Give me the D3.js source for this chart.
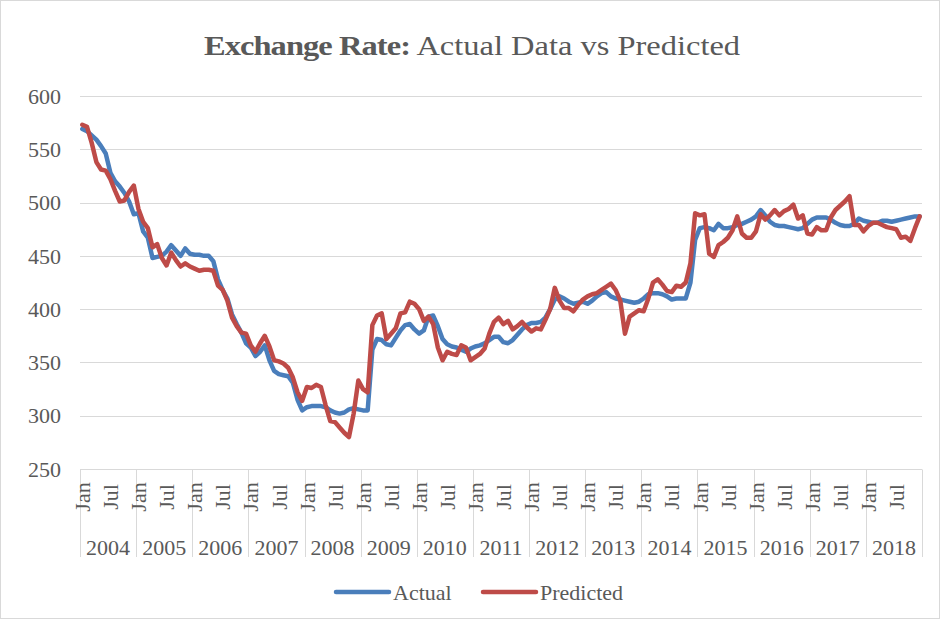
<!DOCTYPE html>
<html>
<head>
<meta charset="utf-8">
<script src="https://cdn.jsdelivr.net/npm/d3@7"></script>
<style>
  body { margin: 0; background: #fff; }
  text { font-family: "Liberation Serif", "Times New Roman", serif; fill: #595959; }
</style>
</head>
<body>
<div id="chart"></div>
<script>
// data, monthly Jan 2004 .. Dec 2018
var years = [2004, 2005, 2006, 2007, 2008, 2009, 2010, 2011, 2012, 2013, 2014, 2015, 2016, 2017, 2018];
var monthTicks = ["Jan", "Jul"];
var yTicks = [250, 300, 350, 400, 450, 500, 550, 600];

var actual = [
  569,567,563,559,553,546,528,520,515,509,501,489,
  490,473,467,448,449,450,454,460,455,450,457,452,
  451,451,450,450,445,428,418,410,395,386,378,368,
  364,356,360,366,352,342,339,338,337,331,315,305,
  308,309,309,309,308,305,303,302,303,306,307,306,
  305,305,362,372,371,367,366,373,380,385,386,381,
  377,380,393,394,384,372,367,365,364,362,360,363,
  365,366,368,371,374,374,369,368,371,376,381,385,
  387,387,388,392,400,409,412,410,407,405,406,407,
  405,408,412,415,416,412,410,409,408,407,406,407,
  410,414,415,415,414,412,409,410,410,410,425,465,
  476,477,476,474,480,476,476,477,479,480,482,484,
  487,493,488,482,479,478,478,477,476,475,476,480,
  484,486,486,486,484,481,479,478,478,480,485,483,
  482,481,481,483,483,482,483,484,485,486,487,487
];

var predicted = [
  573,571,556,538,531,530,522,511,501,502,510,516,
  494,482,476,458,461,448,441,453,446,440,443,440,
  438,436,437,437,436,422,418,408,392,384,378,377,
  366,360,368,375,365,352,351,349,345,336,322,314,
  327,326,329,327,310,295,294,289,284,280,302,333,
  325,322,385,394,396,372,377,382,396,397,407,405,
  400,389,393,386,364,352,360,358,357,366,364,352,
  355,358,363,377,388,392,386,389,381,384,388,383,
  379,382,381,390,400,420,408,401,401,398,404,409,
  412,414,415,418,421,424,418,408,377,393,396,399,
  398,410,425,428,423,417,416,422,421,425,443,490,
  488,489,452,449,460,463,467,474,487,471,467,467,
  473,489,484,488,493,488,492,494,498,485,488,471,
  470,477,474,474,486,493,497,501,506,479,479,473,
  478,481,481,479,477,476,475,467,468,464,476,487
];

var monthNames = ["Jan","Feb","Mar","Apr","May","Jun","Jul","Aug","Sep","Oct","Nov","Dec"];

var width = 947, height = 623;
var margin = { left: 80, right: 25, top: 96, bottom: 154 };

var keys = [];
years.forEach(function(y) {
  monthNames.forEach(function(m) { keys.push(y + "-" + m); });
});

var svg = d3.select("#chart").append("svg")
  .attr("width", width)
  .attr("height", height);

svg.append("rect")
  .attr("x", 0.5).attr("y", 0.5)
  .attr("width", width - 8).attr("height", height - 5)
  .attr("fill", "#fff")
  .attr("stroke", "#d9d9d9");

var x = d3.scaleBand()
  .domain(keys)
  .range([margin.left, width - margin.right]);

var y = d3.scaleLinear()
  .domain([250, 600])
  .range([height - margin.bottom, margin.top]);

function cx(i) { return x(keys[i]) + x.bandwidth() / 2; }

// gridlines
svg.append("g")
  .selectAll("line")
  .data(yTicks)
  .enter().append("line")
  .attr("x1", margin.left)
  .attr("x2", width - margin.right)
  .attr("y1", function(d) { return Math.round(y(d)) + 0.5; })
  .attr("y2", function(d) { return Math.round(y(d)) + 0.5; })
  .attr("stroke", "#d9d9d9")
  .attr("stroke-width", 1);

// y labels
svg.append("g")
  .selectAll("text")
  .data(yTicks)
  .enter().append("text")
  .attr("x", 61)
  .attr("y", function(d) { return y(d); })
  .attr("dy", "0.35em")
  .attr("text-anchor", "end")
  .style("font-size", "22px")
  .text(function(d) { return d; });

// year separators
var axisY = Math.round(y(250)) + 0.5;
var seps = years.map(function(yr) { return x(yr + "-Jan"); });
seps.push(width - margin.right);
svg.append("g")
  .selectAll("line")
  .data(seps)
  .enter().append("line")
  .attr("x1", function(d) { return Math.round(d) + 0.5; })
  .attr("x2", function(d) { return Math.round(d) + 0.5; })
  .attr("y1", axisY)
  .attr("y2", 557)
  .attr("stroke", "#d9d9d9");

// month labels
var monthLabels = [];
years.forEach(function(yr) {
  monthTicks.forEach(function(m) { monthLabels.push({ key: yr + "-" + m, label: m }); });
});
svg.append("g")
  .selectAll("text")
  .data(monthLabels)
  .enter().append("text")
  .attr("transform", function(d) {
    return "translate(" + (x(d.key) + x.bandwidth() / 2) + ",497) rotate(-90)";
  })
  .attr("dy", "0.35em")
  .attr("text-anchor", "middle")
  .style("font-size", "22px")
  .text(function(d) { return d.label; });

// year labels
svg.append("g")
  .selectAll("text")
  .data(years)
  .enter().append("text")
  .attr("x", function(d) { return x(d + "-Jan") + x.bandwidth() * 6; })
  .attr("y", 555)
  .attr("text-anchor", "middle")
  .style("font-size", "22px")
  .text(function(d) { return d; });

// lines
var line = d3.line()
  .x(function(d, i) { return cx(i); })
  .y(function(d) { return y(d); });

var series = [
  { name: "Actual", values: actual, color: "#4a7ebb" },
  { name: "Predicted", values: predicted, color: "#be4b48" }
];

svg.append("g")
  .selectAll("path")
  .data(series)
  .enter().append("path")
  .attr("d", function(d) { return line(d.values); })
  .attr("fill", "none")
  .attr("stroke", function(d) { return d.color; })
  .attr("stroke-width", 4.5)
  .attr("stroke-linejoin", "round")
  .attr("stroke-linecap", "round");

// title, stretched a bit wider like the original
var title = svg.append("text")
  .attr("transform", "translate(472,55) scale(1.16,1)")
  .attr("text-anchor", "middle")
  .style("font-size", "28px");
title.append("tspan")
  .style("font-weight", "bold")
  .attr("letter-spacing", "-0.8")
  .text("Exchange Rate:");
title.append("tspan")
  .text(" Actual Data vs Predicted");

// legend
var legend = svg.append("g")
  .selectAll("g")
  .data(series)
  .enter().append("g")
  .attr("transform", function(d, i) { return "translate(" + (i === 0 ? 336 : 483) + ",592)"; });
legend.append("line")
  .attr("x1", 0).attr("x2", 53)
  .attr("stroke", function(d) { return d.color; })
  .attr("stroke-width", 4.5)
  .attr("stroke-linecap", "round");
legend.append("text")
  .attr("x", 57)
  .attr("dy", "0.35em")
  .style("font-size", "22px")
  .text(function(d) { return d.name; });
</script>
</body>
</html>
